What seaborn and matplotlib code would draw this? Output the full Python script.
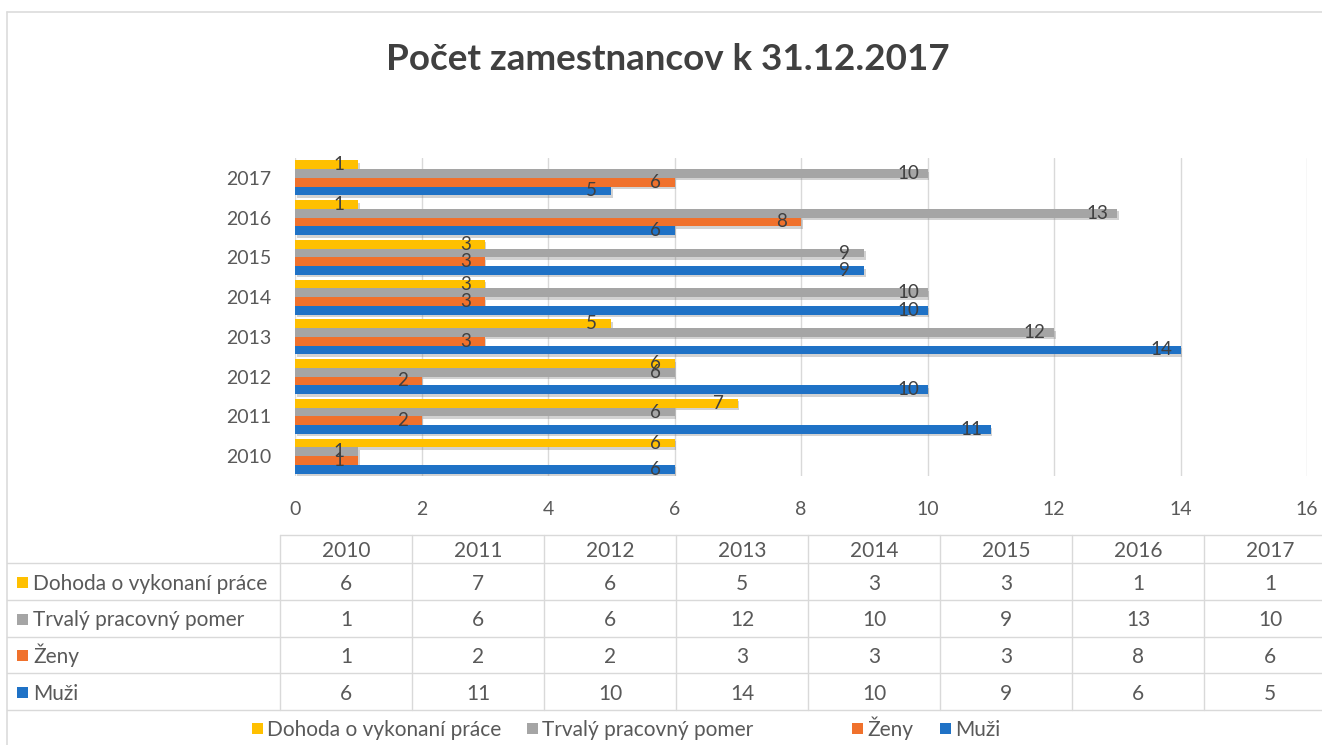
import matplotlib
matplotlib.use("Agg")
import matplotlib.pyplot as plt
import matplotlib.patheffects as pe
from matplotlib.lines import Line2D
from matplotlib.patches import Rectangle
import seaborn as sns
import pandas as pd

# ---------------- data ----------------
years = ["2010", "2011", "2012", "2013", "2014", "2015", "2016", "2017"]
series = ["Dohoda o vykonaní práce", "Trvalý pracovný pomer", "Ženy", "Muži"]
dohoda = [6, 7, 6, 5, 3, 3, 1, 1]
trvaly = [1, 6, 6, 12, 10, 9, 13, 10]
zeny = [1, 2, 2, 3, 3, 3, 8, 6]
muzi = [6, 11, 10, 14, 10, 9, 6, 5]
values = [dohoda, trvaly, zeny, muzi]
colors = ["#FFC000", "#A5A5A5", "#F0712C", "#1F72C6"]
title = "Počet zamestnancov k 31.12.2017"

rows = []
for s, vals in zip(series, values):
    for y, v in zip(years, vals):
        rows.append({"Rok": y, "Séria": s, "Počet": v})
df = pd.DataFrame(rows)

# ---------------- figure ----------------
W, H = 1322, 745
sns.set_theme(style="white")
plt.rcParams["font.family"] = ["Lato", "DejaVu Sans"]
TXT = "#595959"

fig = plt.figure(figsize=(W / 100, H / 100), dpi=100)
fig.patch.set_facecolor("white")

def fx(x):
    return x / W

def fy(y):
    return 1 - y / H

ax = fig.add_axes([fx(295), fy(476), fx(1307) - fx(295), fy(158) - fy(476)])
sns.barplot(data=df, y="Rok", x="Počet", hue="Séria", order=years[::-1],
            hue_order=series, palette=colors, orient="h", width=0.88,
            gap=0, legend=False, ax=ax, saturation=1)

shadow = [pe.SimplePatchShadow(offset=(1.2, -1.8), shadow_rgbFace="#808080", alpha=0.35),
          pe.Normal()]
for cont in ax.containers:
    for patch in cont:
        patch.set_path_effects(shadow)
        patch.set_edgecolor("none")
        v = patch.get_width()
        yc = patch.get_y() + patch.get_height() / 2
        ax.annotate(f"{int(round(v))}", (v, yc), xytext=(-14, 0),
                    textcoords="offset points", ha="center", va="center",
                    fontsize=13.5, color="#404040", zorder=5)

ax.set_xlim(0, 16)
ax.set_xticks(range(0, 17, 2))
ax.grid(axis="x", color="#D9D9D9", linewidth=1)
ax.set_axisbelow(True)
for sp in ax.spines.values():
    sp.set_visible(False)
ax.tick_params(axis="both", length=0, labelsize=14, labelcolor=TXT)
ax.tick_params(axis="x", pad=18)
ax.tick_params(axis="y", pad=17)
ax.set_xlabel("")
ax.set_ylabel("")

fig.text(0.505, fy(57), title, ha="center", va="center_baseline", fontsize=26.5,
         fontweight="bold", color="#404040")

# ---------------- frame ----------------
frame_c = "#DCDCDC"
fig.add_artist(Line2D([fx(7), fx(7)], [fy(12), 0], color=frame_c, lw=1.2))
fig.add_artist(Line2D([fx(7), 1], [fy(12), fy(12)], color=frame_c, lw=1.2))

# ---------------- data table ----------------
grid_c = "#D9D9D9"
col0 = 280
colw = 132
row_lines = [563, 600, 637, 673, 710]
header_top = 535
ncols = len(years)
right = col0 + colw * ncols
FS = 15
BL = 8  # baseline offset (px) below row centre

fig.add_artist(Line2D([fx(col0), fx(right)], [fy(header_top)] * 2, color=grid_c, lw=1))
for yl in row_lines:
    fig.add_artist(Line2D([fx(7), fx(right)], [fy(yl)] * 2, color=grid_c, lw=1))
for i in range(ncols + 1):
    xl = col0 + i * colw
    fig.add_artist(Line2D([fx(xl)] * 2, [fy(header_top), fy(710)], color=grid_c, lw=1))

header_y = (header_top + row_lines[0]) / 2
for i, yv in enumerate(years):
    fig.text(fx(col0 + colw * (i + 0.5)), fy(header_y + BL), yv, ha="center",
             va="baseline", fontsize=FS, color=TXT)

for r, (s, vals, c) in enumerate(zip(series, values, colors)):
    yc = (row_lines[r] + row_lines[r + 1]) / 2
    fig.add_artist(Rectangle((fx(17), fy(yc + 6)), fx(11), 11 / H,
                             facecolor=c, edgecolor="none"))
    fig.text(fx(33), fy(yc + BL), s, ha="left", va="baseline", fontsize=FS, color=TXT)
    for i, v in enumerate(vals):
        fig.text(fx(col0 + colw * (i + 0.5)), fy(yc + BL), str(v), ha="center",
                 va="baseline", fontsize=FS, color=TXT)

# ---------------- legend ----------------
leg_y = 728
leg_x = [252, 527, 852, 940]
for s, c, lx in zip(series, colors, leg_x):
    fig.add_artist(Rectangle((fx(lx), fy(leg_y + 6)), fx(11), 11 / H,
                             facecolor=c, edgecolor="none"))
    fig.text(fx(lx + 15), fy(leg_y + BL), s, ha="left", va="baseline", fontsize=FS,
             color=TXT)

fig.savefig("out.png", dpi=100)
